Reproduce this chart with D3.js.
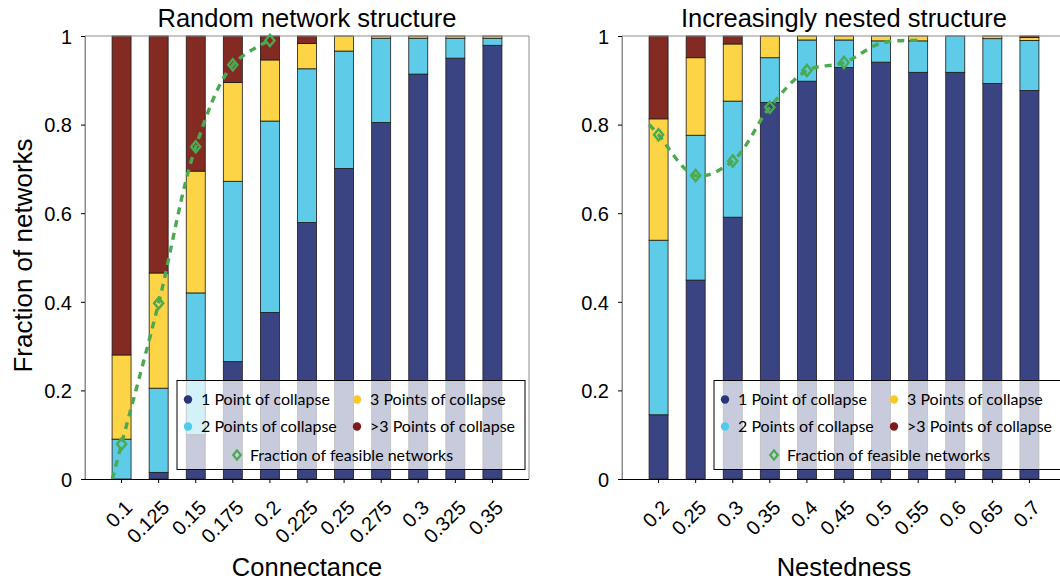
<!DOCTYPE html>
<html>
<head>
<meta charset="utf-8">
<script src="https://cdn.jsdelivr.net/npm/d3@7/dist/d3.min.js"></script>
<style>
  html, body { margin: 0; padding: 0; background: #fff; }
  svg { display: block; }
</style>
</head>
<body>
<svg id="chart" width="1060" height="581"></svg>
<script>
// ---- data ---------------------------------------------------------------
const connectance = ["0.1","0.125","0.15","0.175","0.2","0.225","0.25","0.275","0.3","0.325","0.35"];
const nestedness  = ["0.2","0.25","0.3","0.35","0.4","0.45","0.5","0.55","0.6","0.65","0.7"];

// fraction of networks by number of collapse points (random structure)
const randOne   = [0.000, 0.015, 0.100, 0.265, 0.376, 0.579, 0.701, 0.805, 0.914, 0.950, 0.979];
const randTwo   = [0.090, 0.190, 0.320, 0.407, 0.432, 0.347, 0.265, 0.190, 0.081, 0.045, 0.016];
const randThree = [0.190, 0.260, 0.275, 0.223, 0.138, 0.057, 0.034, 0.005, 0.005, 0.005, 0.005];
const randMore  = [0.720, 0.535, 0.305, 0.105, 0.054, 0.017, 0.000, 0.000, 0.000, 0.000, 0.000];
const randFeasible = [0.079, 0.397, 0.750, 0.935, 0.990, null, null, null, null, null, null];
const randMarked   = [true, true, true, true, true, false, false, false, false, false, false];

// fraction of networks by number of collapse points (nested structure)
const nestOne   = [0.145, 0.449, 0.591, 0.850, 0.898, 0.929, 0.941, 0.918, 0.918, 0.893, 0.877];
const nestTwo   = [0.394, 0.327, 0.262, 0.101, 0.093, 0.062, 0.048, 0.071, 0.082, 0.101, 0.113];
const nestThree = [0.274, 0.175, 0.129, 0.049, 0.009, 0.009, 0.011, 0.011, 0.000, 0.006, 0.007];
const nestMore  = [0.187, 0.049, 0.018, 0.000, 0.000, 0.000, 0.000, 0.000, 0.000, 0.000, 0.003];
const nestFeasible = [0.777, 0.685, 0.718, 0.839, 0.922, 0.940, 0.984, 0.990, null, null, null];
const nestMarked   = [true, true, true, true, true, true, false, false, false, false, false];

const yTicks      = [0, 0.2, 0.4, 0.6, 0.8, 1];
const yTickLabels = ["0", "0.2", "0.4", "0.6", "0.8", "1"];

const seriesNames  = ["1 Point of collapse", "2 Points of collapse", "3 Points of collapse", ">3 Points of collapse"];
const seriesFill   = ["#3b4482", "#5ecbe8", "#fdd445", "#832a22"];
const legendDot    = ["#283678", "#4ccdea", "#fbc72a", "#7d1b1b"];
const feasibleName = "Fraction of feasible networks";
const feasibleColor = "#4aa951";

// ---- layout -------------------------------------------------------------
const svg = d3.select("#chart");
const plotTop = 36, plotBottom = 479, plotWidth = 444;
const tickFont = "Liberation Sans, Arial, Helvetica, sans-serif";
const legendFont = "Lato, 'Noto Sans', sans-serif";

const y = d3.scaleLinear().domain([0, 1]).range([plotBottom, plotTop]);

const diamond = (w, h) => `M0,${-h}L${w},0L0,${h}L${-w},0Z`;

function drawPanel(opt) {
  const x0 = opt.left, x1 = opt.left + plotWidth;
  const g = svg.append("g");
  const x = d3.scaleBand().domain(opt.categories).range([x0, x1])
    .paddingInner(0.488).paddingOuter(0.73);

  const clipId = "clip-" + opt.id;
  svg.append("clipPath").attr("id", clipId)
    .append("rect").attr("x", x0).attr("y", plotTop)
    .attr("width", plotWidth).attr("height", plotBottom - plotTop);

  // stacked bars
  const rows = opt.categories.map((c, i) => ({
    cat: c, s0: opt.series[0][i], s1: opt.series[1][i], s2: opt.series[2][i], s3: opt.series[3][i]
  }));
  const stack = d3.stack().keys(["s0", "s1", "s2", "s3"])(rows);
  stack.forEach((layer, k) => {
    g.append("g").selectAll("rect")
      .data(layer.filter(d => d[1] - d[0] > 0))
      .join("rect")
      .attr("x", d => x(d.data.cat))
      .attr("width", x.bandwidth())
      .attr("y", d => y(d[1]))
      .attr("height", d => y(d[0]) - y(d[1]))
      .attr("fill", seriesFill[k])
      .attr("stroke", "#1a1a1a")
      .attr("stroke-width", 0.8);
  });

  // frame (left, top, right in grey)
  g.append("path")
    .attr("d", `M${x0},${plotBottom}V${plotTop}H${x1}V${plotBottom}`)
    .attr("fill", "none").attr("stroke", "#8c8c8c").attr("stroke-width", 1);

  // y axis
  const yAxis = g.append("g").attr("transform", `translate(${x0},0)`)
    .call(d3.axisLeft(y).tickValues(yTicks).tickFormat((d, i) => yTickLabels[i])
      .tickSize(4).tickPadding(9));
  yAxis.select(".domain").attr("stroke", "#8c8c8c");
  yAxis.selectAll(".tick line").attr("stroke", "#000");
  yAxis.selectAll("text").attr("font-family", tickFont).attr("font-size", 20)
    .attr("fill", "#000").attr("dy", "0.36em");

  // x axis with slanted labels
  const xAxis = g.append("g").attr("transform", `translate(0,${plotBottom})`)
    .call(d3.axisBottom(x).tickSize(4).tickSizeOuter(0));
  xAxis.select(".domain").attr("stroke", "#000").attr("d", `M${x0},0.5H${x1}`);
  xAxis.selectAll(".tick line").attr("stroke", "#000");
  xAxis.selectAll("text")
    .attr("font-family", tickFont).attr("font-size", 20).attr("fill", "#000")
    .attr("x", 0).attr("y", 0).attr("dy", 0)
    .attr("text-anchor", "end")
    .attr("transform", "translate(12,30) rotate(-45)");

  // feasible-fraction trend (dashed) and markers
  const pts = opt.categories.map((c, i) => ({
    x: x(c) + x.bandwidth() / 2, v: opt.feasible[i], marked: opt.marked[i]
  })).filter(p => p.v !== null);
  const linePts = pts.map(p => [p.x, y(p.v)]);
  // short lead-in along the first segment's direction
  const [a, b] = linePts;
  const lead = [a[0] - 0.25 * (b[0] - a[0]), a[1] - 0.25 * (b[1] - a[1])];
  linePts.unshift(lead);

  g.append("path")
    .attr("clip-path", `url(#${clipId})`)
    .attr("d", d3.line().curve(d3.curveCatmullRom.alpha(0.5))(linePts))
    .attr("fill", "none")
    .attr("stroke", feasibleColor)
    .attr("stroke-width", 3.4)
    .attr("stroke-dasharray", "7,6");

  g.append("g").selectAll("path")
    .data(pts.filter(p => p.marked))
    .join("path")
    .attr("transform", p => `translate(${p.x},${y(p.v)})`)
    .attr("d", diamond(4.6, 5.6))
    .attr("fill", "none")
    .attr("stroke", feasibleColor)
    .attr("stroke-width", 2.4);

  // title and axis label
  svg.append("text")
    .attr("x", (x0 + x1) / 2).attr("y", 27)
    .attr("text-anchor", "middle")
    .attr("font-family", tickFont).attr("font-size", 25.5)
    .text(opt.title);
  svg.append("text")
    .attr("x", (x0 + x1) / 2).attr("y", 576)
    .attr("text-anchor", "middle")
    .attr("font-family", tickFont).attr("font-size", 25.5)
    .text(opt.xLabel);

  // legend
  const lx = x0 + 92, ly = 380.5, lw = 348, lh = 89;
  const lg = svg.append("g").attr("transform", `translate(${lx},${ly})`);
  lg.append("rect").attr("width", lw).attr("height", lh)
    .attr("fill", "#fff").attr("fill-opacity", 0.72)
    .attr("stroke", "#000").attr("stroke-width", 1);
  const cols = [11, 180], rowsY = [19, 46];
  seriesNames.forEach((name, k) => {
    const cx = cols[Math.floor(k / 2)], cy = rowsY[k % 2];
    lg.append("circle").attr("cx", cx).attr("cy", cy).attr("r", 4.2).attr("fill", legendDot[k]);
    lg.append("text").attr("x", cx + 13).attr("y", cy + 5.5)
      .attr("font-family", legendFont).attr("font-size", 16).attr("fill", "#000")
      .text(name);
  });
  lg.append("path").attr("transform", "translate(60,74.5)")
    .attr("d", diamond(3.8, 4.6)).attr("fill", "none")
    .attr("stroke", feasibleColor).attr("stroke-width", 2.2);
  lg.append("text").attr("x", 73).attr("y", 80)
    .attr("font-family", legendFont).attr("font-size", 16).attr("fill", "#000")
    .text(feasibleName);
}

drawPanel({
  id: "random", left: 85, categories: connectance,
  series: [randOne, randTwo, randThree, randMore],
  feasible: randFeasible, marked: randMarked,
  title: "Random network structure", xLabel: "Connectance"
});
drawPanel({
  id: "nested", left: 622, categories: nestedness,
  series: [nestOne, nestTwo, nestThree, nestMore],
  feasible: nestFeasible, marked: nestMarked,
  title: "Increasingly nested structure", xLabel: "Nestedness"
});

// shared y-axis label
svg.append("text")
  .attr("transform", "translate(32,255.5) rotate(-90)")
  .attr("text-anchor", "middle")
  .attr("font-family", tickFont).attr("font-size", 26)
  .text("Fraction of networks");
</script>
</body>
</html>
